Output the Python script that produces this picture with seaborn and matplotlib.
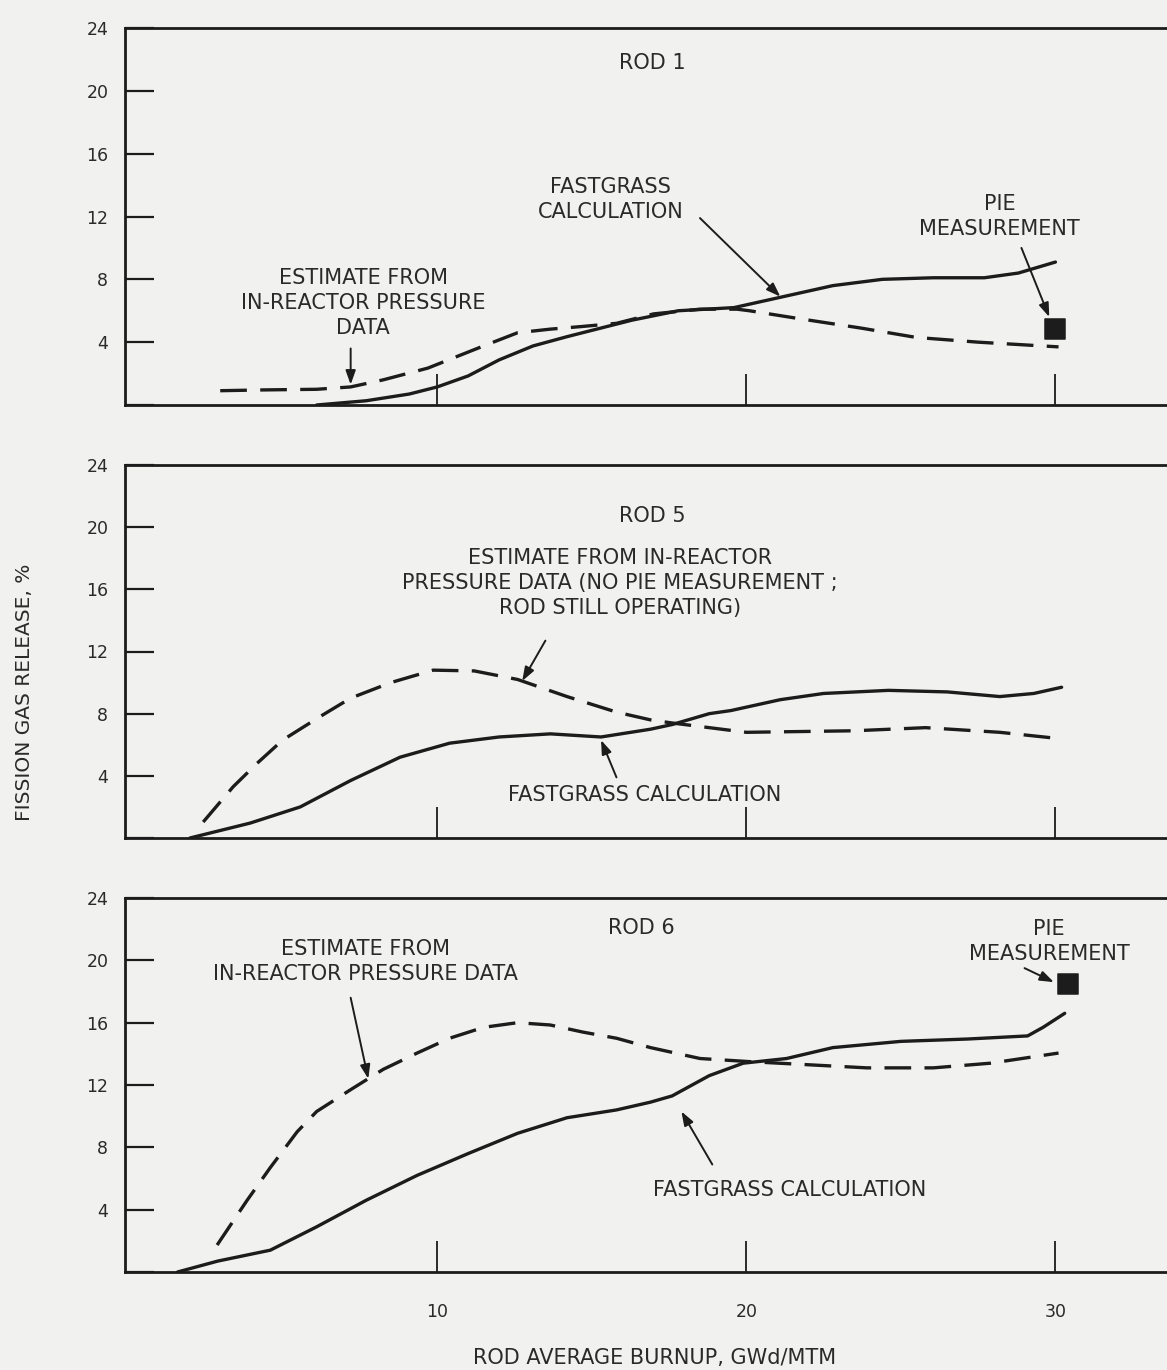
import numpy as np
import pandas as pd
import matplotlib
matplotlib.use("Agg")
import matplotlib.pyplot as plt
import seaborn as sns

# ---------------- data ----------------
rod1_est_x = [2.98, 4.37, 6.1, 7.2, 8.25, 9.7, 10.4, 11.5, 12.6, 13.66, 14.7, 15.8, 17.0, 18.5, 19.7,
              20.1, 21.7, 23.7, 25.5, 27.5, 30.1]
rod1_est_y = [0.91, 0.96, 1.0, 1.15, 1.6, 2.35, 2.9, 3.76, 4.6, 4.83, 5.0, 5.2, 5.8, 6.1, 6.1,
              6.0, 5.5, 4.9, 4.3, 4.0, 3.7]
rod1_calc_x = [6.1, 7.7, 9.1, 10.0, 11.0, 12.0, 13.1, 14.2, 15.3, 16.3, 17.8, 19.6, 21.2, 22.8, 24.4,
               26.05, 27.7, 28.8, 30.0]
rod1_calc_y = [0.0, 0.27, 0.7, 1.15, 1.85, 2.87, 3.76, 4.35, 4.9, 5.4, 6.0, 6.2, 6.9, 7.6, 8.0,
               8.1, 8.1, 8.4, 9.1]
rod1_pie_x = [30.0]
rod1_pie_y = [4.85]

rod5_est_x = [2.43, 3.4, 4.17, 5.0, 6.2, 7.2, 8.5, 9.87, 11.2, 12.6, 14.2, 15.8, 16.9, 17.6, 20.0,
              23.5, 25.8, 28.2, 30.1]
rod5_est_y = [1.03, 3.3, 4.8, 6.3, 7.8, 9.0, 10.0, 10.8, 10.75, 10.2, 9.1, 8.1, 7.6, 7.4, 6.8,
              6.9, 7.1, 6.8, 6.4]
rod5_calc_x = [2.0, 3.95, 5.57, 7.2, 8.8, 10.4, 12.0, 13.66, 15.3, 16.9, 17.6, 18.8, 19.5, 21.1,
               22.5, 24.6, 26.5, 28.2, 29.3, 30.2]
rod5_calc_y = [0.0, 0.96, 2.0, 3.7, 5.2, 6.1, 6.5, 6.7, 6.5, 7.0, 7.3, 8.0, 8.2, 8.9,
               9.3, 9.5, 9.4, 9.1, 9.3, 9.7]

rod6_est_x = [2.88, 3.85, 4.6, 5.47, 6.1, 7.2, 8.25, 9.35, 10.4, 11.5, 12.6, 13.66, 14.7, 15.8, 16.9,
              18.5, 20.1, 22.0, 23.9, 26.05, 27.9, 30.1]
rod6_est_y = [1.73, 4.6, 6.7, 9.0, 10.3, 11.7, 13.0, 14.05, 15.0, 15.7, 16.0, 15.85, 15.4, 15.0, 14.4,
              13.7, 13.5, 13.3, 13.1, 13.1, 13.4, 14.05]
rod6_calc_x = [1.6, 2.9, 4.6, 6.1, 7.7, 9.35, 11.0, 12.6, 14.2, 15.8, 16.9, 17.6, 18.8, 19.9, 21.3,
               22.8, 25.0, 27.15, 29.1, 29.6, 30.3]
rod6_calc_y = [0.0, 0.7, 1.4, 2.9, 4.6, 6.2, 7.6, 8.9, 9.9, 10.4, 10.9, 11.3, 12.6, 13.4, 13.7,
               14.4, 14.8, 14.95, 15.15, 15.7, 16.6]
rod6_pie_x = [30.4]
rod6_pie_y = [18.5]

y_ticks = [0, 4, 8, 12, 16, 20, 24]
y_tick_labels = ["", "4", "8", "12", "16", "20", "24"]
x_ticks = [10, 20, 30]
x_tick_labels = ["10", "20", "30"]

rod_titles = ["ROD 1", "ROD 5", "ROD 6"]

# ---------------- style ----------------
sns.set_theme(style="white")
plt.rcParams["font.family"] = ["DejaVu Sans"]
BG = "#f1f1ef"
INK = "#1c1c1c"
TXT = "#2a2a2a"

W, H = 1167, 1370
fig = plt.figure(figsize=(W / 100, H / 100), dpi=100, facecolor=BG)

def px_axes(left, top, right, bottom):
    return fig.add_axes([left / W, 1 - bottom / H, (right - left) / W, (bottom - top) / H])

ax1 = px_axes(125, 28, 1176, 405)
ax2 = px_axes(125, 465, 1176, 838)
ax3 = px_axes(125, 898, 1176, 1272)
axes = [ax1, ax2, ax3]

panels = [
    (rod1_est_x, rod1_est_y, rod1_calc_x, rod1_calc_y, rod1_pie_x, rod1_pie_y),
    (rod5_est_x, rod5_est_y, rod5_calc_x, rod5_calc_y, None, None),
    (rod6_est_x, rod6_est_y, rod6_calc_x, rod6_calc_y, rod6_pie_x, rod6_pie_y),
]

for i, (ax, (ex, ey, cx, cy, px_, py_)) in enumerate(zip(axes, panels)):
    ax.set_facecolor(BG)
    est = pd.DataFrame({"burnup": ex, "release": ey})
    calc = pd.DataFrame({"burnup": cx, "release": cy})
    sns.lineplot(data=est, x="burnup", y="release", ax=ax, color=INK, lw=2.4,
                 linestyle=(0, (8, 4)), sort=False)
    sns.lineplot(data=calc, x="burnup", y="release", ax=ax, color=INK, lw=2.4, sort=False)
    if px_ is not None:
        pie = pd.DataFrame({"burnup": px_, "release": py_})
        sns.scatterplot(data=pie, x="burnup", y="release", ax=ax, marker="s",
                        s=190, color=INK, edgecolor=INK, zorder=5)
    ax.set_xlim(-0.1, 33.9)
    ax.set_ylim(0, 24)
    ax.set_yticks(y_ticks)
    ax.set_yticklabels(y_tick_labels)
    ax.set_xticks(x_ticks)
    if i == 2:
        ax.set_xticklabels(x_tick_labels)
    else:
        ax.set_xticklabels([])
    ax.tick_params(axis="y", direction="in", length=21, width=1.6, colors=INK,
                   labelcolor=TXT, labelsize=12.5, pad=12, left=True)
    ax.tick_params(axis="x", direction="in", length=22, width=1.3, colors=INK,
                   labelcolor=TXT, labelsize=12.5, pad=22, bottom=True)
    for s in ax.spines.values():
        s.set_color(INK)
        s.set_linewidth(2.0)
    ax.set_xlabel("")
    ax.set_ylabel("")

tkw = dict(ha="center", va="center", fontsize=15, color=TXT, linespacing=1.3)
akw = dict(arrowstyle="-|>,head_length=0.7,head_width=0.25", color=INK, lw=1.4, shrinkA=0, shrinkB=0)

# Panel 1
ax1.text(16.96, 21.8, rod_titles[0], **tkw)
ax1.text(15.6, 13.1, "FASTGRASS\nCALCULATION", **tkw)
ax1.annotate("", xy=(21.1, 6.9), xytext=(18.5, 11.9), arrowprops=akw)
ax1.text(28.2, 12.0, "PIE\nMEASUREMENT", **tkw)
ax1.annotate("", xy=(29.8, 5.6), xytext=(28.9, 10.0), arrowprops=akw)
ax1.text(7.6, 6.5, "ESTIMATE FROM\nIN-REACTOR PRESSURE\nDATA", **tkw)
ax1.annotate("", xy=(7.2, 1.3), xytext=(7.2, 3.6), arrowprops=akw)

# Panel 2
ax2.text(16.96, 20.7, rod_titles[1], **tkw)
ax2.text(15.9, 16.4, "ESTIMATE FROM IN-REACTOR\nPRESSURE DATA (NO PIE MEASUREMENT ;\nROD STILL OPERATING)", **tkw)
ax2.annotate("", xy=(12.75, 10.1), xytext=(13.5, 12.7), arrowprops=akw)
ax2.text(16.7, 2.77, "FASTGRASS CALCULATION", **tkw)
ax2.annotate("", xy=(15.3, 6.3), xytext=(15.8, 3.9), arrowprops=akw)

# Panel 3
ax3.text(16.6, 22.1, rod_titles[2], **tkw)
ax3.text(7.67, 19.9, "ESTIMATE FROM\nIN-REACTOR PRESSURE DATA", **tkw)
ax3.annotate("", xy=(7.77, 12.4), xytext=(7.2, 17.6), arrowprops=akw)
ax3.text(29.8, 21.2, "PIE\nMEASUREMENT", **tkw)
ax3.annotate("", xy=(29.95, 18.6), xytext=(29.0, 19.5), arrowprops=akw)
ax3.text(21.4, 5.26, "FASTGRASS CALCULATION", **tkw)
ax3.annotate("", xy=(17.9, 10.3), xytext=(18.9, 6.9), arrowprops=akw)

fig.text(25 / W, 1 - 692 / H, "FISSION GAS RELEASE, %", rotation=90, ha="center",
         va="center", fontsize=14.5, color=TXT)
fig.text(655 / W, 1 - 1358 / H, "ROD AVERAGE BURNUP, GWd/MTM", ha="center",
         va="center", fontsize=15, color=TXT)

fig.savefig("out.png", dpi=100, facecolor=BG)
